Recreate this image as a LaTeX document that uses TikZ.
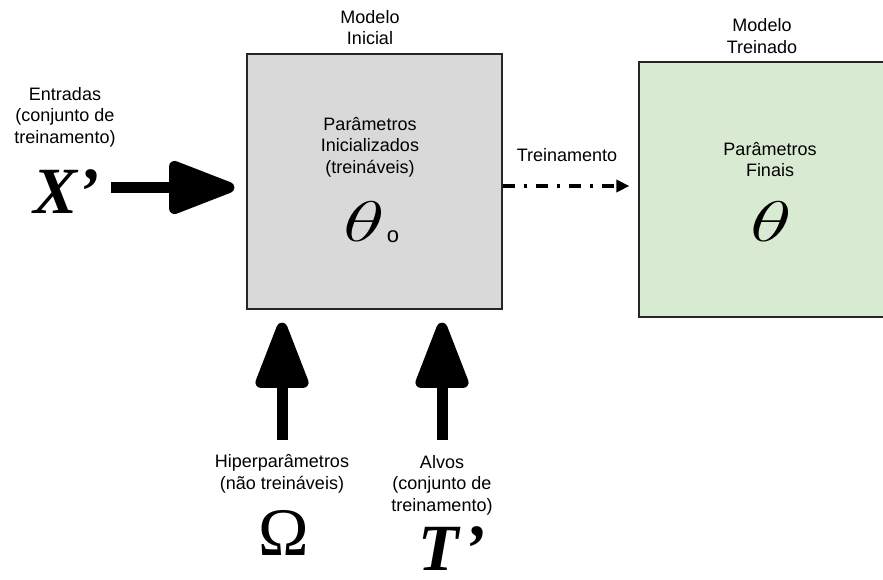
\documentclass[tikz,border=0pt]{standalone}
\usepackage{fontspec}
\setmainfont{Liberation Sans}
\newfontfamily\symfont{Liberation Serif}
\usetikzlibrary{arrows.meta}
\definecolor{boxgray}{HTML}{D9D9D9}
\definecolor{boxgreen}{HTML}{D9EAD3}
% wide italic theta built from the math font, scaled up
\newcommand{\widetheta}{\scalebox{3.45}[2.3]{\fontsize{24}{24}\selectfont$\theta$}}
\begin{document}
\begin{tikzpicture}[x=1pt,y=-1pt,
  lbl/.style={font=\fontsize{18}{21.5}\selectfont, align=center, inner sep=0pt},
  model/.style={draw=black!85, line width=1.2pt, minimum width=255pt,
    minimum height=255pt, inner sep=0pt},
  fat/.style={line width=11pt, -{Triangle[length=76pt,width=55pt,round]}},
  bigsym/.style={inner sep=0pt, font=\fontsize{66}{66}\selectfont\symfont\bfseries\itshape},
  greek/.style={inner sep=0pt},
  train/.style={line width=4pt, dash pattern=on 12pt off 9pt on 3pt off 9pt,
    -{Triangle[length=13pt,width=12pt]}}
]
\useasboundingbox (0,0) rectangle (883,579);
\clip (0,0) rectangle (883,579);

% model boxes
\node[model, fill=boxgray] (init) at (374.5,181.5) {};
\node[model, fill=boxgreen, minimum width=262pt] (final) at (770,189.5) {};

% captions
\node[lbl] (initname) at (370,27.5) {Modelo\\Inicial};
\node[lbl] (finalname) at (762,36) {Modelo\\Treinado};
\node[lbl] (initpar) at (370,147) {Parâmetros\\Inicializados\\(treináveis)};
\node[lbl] (finalpar) at (770,159.5) {Parâmetros\\Finais};
\node[lbl] (inlbl) at (65,117) {Entradas\\(conjunto de\\treinamento)};
\node[lbl] (hyplbl) at (282,474) {Hiperparâmetros\\(não treináveis)};
\node[lbl] (tgtlbl) at (442,485) {Alvos\\(conjunto de\\treinamento)};
\node[lbl] (trainlbl) at (567,155) {Treinamento};

% symbols
\node[bigsym] (xsym) at (66,192) {X’};
\node[bigsym] (tsym) at (452,549) {T\kern4pt’};
\node[inner sep=0pt, font=\fontsize{68}{68}\selectfont\symfont] (omega) at (284,533) {Ω};
\node[greek] (theta0) at (364,222) {\widetheta};
\node[inner sep=0pt, anchor=base, font=\fontsize{22}{22}\selectfont] (sub0) at (393,242) {o};
\node[greek] (theta) at (771,222) {\widetheta};

% inputs
\coordinate (xin) at ([yshift=-6pt]init.west);
\draw[fat, shorten <=12pt, shorten >=12pt] (xsym.east |- xin) -- (xin);
\draw[fat, shorten <=15pt, shorten >=13pt] (hyplbl.north) -- (hyplbl.north |- init.south);
\draw[fat, shorten <=15pt, shorten >=13pt] (tgtlbl.north) -- (tgtlbl.north |- init.south);

% training
\coordinate (tr) at ([yshift=-4.5pt]init.east);
\draw[train, shorten >=9pt] (tr) -- (tr -| final.west);
\end{tikzpicture}
\end{document}
